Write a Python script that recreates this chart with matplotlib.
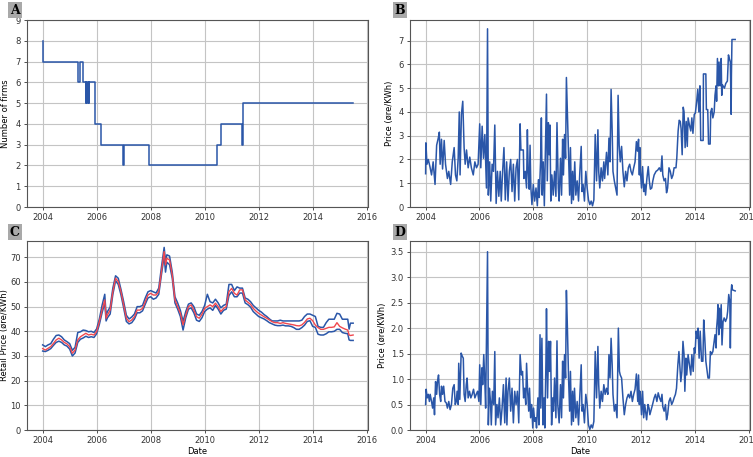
import matplotlib
matplotlib.use('Agg')
import matplotlib.pyplot as plt

# Panel A: number of firms (step changes)
a_years = [2004.0, 2004.02, 2005.32, 2005.38, 2005.51, 2005.60, 2005.62, 2005.66, 2005.68,
           2005.71, 2005.73, 2005.94, 2006.17, 2006.99, 2007.01, 2007.94, 2010.47, 2010.59,
           2011.38, 2011.42, 2015.5]
a_firms = [8, 7, 6, 7, 6, 5, 6, 5, 6, 5, 6, 4, 3, 2, 3, 2, 3, 4, 3, 5, 5]

# Panel B: price (øre/KWh)
b_years = [2004.0, 2004.01, 2004.05, 2004.10, 2004.16, 2004.22, 2004.28, 2004.35, 2004.41, 2004.47,
           2004.51, 2004.54, 2004.59, 2004.63, 2004.69, 2004.74, 2004.81, 2004.86, 2004.93, 2004.99,
           2005.06, 2005.11, 2005.16, 2005.21, 2005.25, 2005.28, 2005.33, 2005.38, 2005.43, 2005.47,
           2005.52, 2005.58, 2005.64, 2005.70, 2005.77, 2005.83, 2005.89, 2005.95, 2006.01, 2006.05,
           2006.10, 2006.15, 2006.20, 2006.26, 2006.30, 2006.33, 2006.38, 2006.42, 2006.47, 2006.52,
           2006.57, 2006.62, 2006.67, 2006.72, 2006.77, 2006.81, 2006.86, 2006.91, 2006.96, 2007.01,
           2007.06, 2007.11, 2007.16, 2007.21, 2007.26, 2007.31, 2007.36, 2007.41, 2007.46, 2007.51,
           2007.54, 2007.63, 2007.65, 2007.70, 2007.75, 2007.78, 2007.81, 2007.85, 2007.88, 2007.91,
           2007.95, 2008.00, 2008.05, 2008.10, 2008.15, 2008.19, 2008.22, 2008.27, 2008.30, 2008.33,
           2008.37, 2008.41, 2008.44, 2008.49, 2008.52, 2008.56, 2008.59, 2008.62, 2008.65, 2008.69,
           2008.74, 2008.79, 2008.84, 2008.88, 2008.93, 2008.96, 2009.01, 2009.05, 2009.09, 2009.12,
           2009.16, 2009.20, 2009.23, 2009.27, 2009.31, 2009.35, 2009.38, 2009.42, 2009.46, 2009.49,
           2009.54, 2009.58, 2009.63, 2009.68, 2009.73, 2009.78, 2009.81, 2009.85, 2009.90, 2009.95,
           2010.00, 2010.05, 2010.10, 2010.15, 2010.20, 2010.25, 2010.30, 2010.35, 2010.40, 2010.43,
           2010.47, 2010.52, 2010.57, 2010.62, 2010.65, 2010.72, 2010.77, 2010.81, 2010.85, 2010.89,
           2010.93, 2010.96, 2011.01, 2011.06, 2011.11, 2011.15, 2011.19, 2011.23, 2011.28, 2011.33,
           2011.38, 2011.43, 2011.48, 2011.53, 2011.58, 2011.63, 2011.68, 2011.73, 2011.78, 2011.83,
           2011.87, 2011.91, 2011.94, 2011.96, 2011.98, 2012.02, 2012.06, 2012.10, 2012.14, 2012.17,
           2012.22, 2012.27, 2012.31, 2012.35, 2012.40, 2012.44, 2012.49, 2012.56, 2012.62, 2012.68,
           2012.74, 2012.78, 2012.81, 2012.86, 2012.91, 2012.95, 2012.99, 2013.04, 2013.09, 2013.14,
           2013.19, 2013.23, 2013.30, 2013.33, 2013.38, 2013.42, 2013.46, 2013.49, 2013.53, 2013.57,
           2013.60, 2013.64, 2013.68, 2013.72, 2013.75, 2013.80, 2013.85, 2013.89, 2013.93, 2013.98,
           2014.02, 2014.07, 2014.11, 2014.15, 2014.19, 2014.22, 2014.31, 2014.32, 2014.41, 2014.43,
           2014.48, 2014.51, 2014.57, 2014.59, 2014.63, 2014.67, 2014.72, 2014.75, 2014.79, 2014.81,
           2014.84, 2014.88, 2014.90, 2014.94, 2014.98, 2015.00, 2015.02, 2015.10, 2015.15, 2015.21,
           2015.25, 2015.28, 2015.32, 2015.35, 2015.36, 2015.38, 2015.50]
b_price = [1.4, 2.7, 1.8, 2.0, 1.7, 1.35, 1.9, 0.95, 2.6, 2.9,
           3.15, 1.8, 2.85, 1.6, 2.8, 1.8, 1.2, 1.5, 0.95, 1.9,
           2.5, 1.35, 1.1, 2.05, 4.0, 1.35, 3.9, 4.45, 2.5, 1.8,
           2.4, 1.65, 2.1, 1.65, 1.35, 1.9, 1.65, 1.8, 3.5, 1.65,
           3.4, 2.05, 3.05, 0.8, 7.5, 0.5, 1.9, 0.25, 1.8, 1.5,
           3.45, 0.15, 1.5, 0.45, 1.5, 0.25, 1.5, 2.5, 0.3, 1.9,
           0.25, 1.5, 2.0, 0.65, 1.8, 0.25, 1.65, 2.0, 0.3, 3.5,
           2.4, 2.4, 1.2, 1.5, 0.8, 3.25, 1.55, 0.75, 2.6, 0.8,
           0.1, 0.95, 0.25, 0.8, 0.05, 1.15, 0.4, 1.9, 3.75, 0.5,
           1.9, 0.05, 1.8, 4.75, 1.1, 3.55, 2.2, 3.45, 0.25, 1.35,
           0.5, 1.5, 0.45, 3.55, 0.8, 0.25, 2.05, 0.5, 2.85, 1.35,
           3.05, 2.05, 5.45, 3.9, 2.2, 0.5, 2.5, 0.15, 1.5, 0.3,
           1.9, 0.5, 1.1, 0.25, 1.5, 2.55, 0.65, 0.95, 0.25, 1.5,
           0.8, 0.3, 0.1, 0.25, 0.05, 0.3, 3.05, 1.1, 3.25, 1.5,
           0.8, 1.65, 1.1, 1.9, 1.2, 2.3, 1.35, 2.9, 1.9, 4.95,
           3.2, 1.5, 1.1, 0.8, 0.5, 4.7, 2.6, 1.9, 2.55, 1.5,
           0.85, 1.5, 1.1, 1.65, 1.8, 1.5, 1.35, 1.65, 1.9, 2.75,
           2.35, 2.85, 1.35, 2.5, 1.5, 0.8, 1.7, 0.65, 0.95, 0.5,
           1.2, 1.7, 1.1, 0.75, 0.8, 1.1, 1.35, 1.5, 1.55, 1.65,
           1.5, 2.15, 1.35, 1.1, 1.2, 0.6, 0.8, 1.65, 1.5, 1.2,
           1.35, 1.65, 1.65, 2.05, 3.2, 3.65, 3.6, 3.3, 2.2, 4.2,
           4.0, 2.5, 3.6, 2.55, 3.75, 3.45, 3.2, 3.75, 3.1, 3.9,
           3.95, 4.45, 4.95, 4.0, 5.1, 2.8, 2.8, 5.6, 5.6, 4.1,
           4.1, 2.65, 2.65, 4.0, 4.15, 3.75, 4.0, 4.7, 5.1, 4.45,
           6.25, 5.1, 6.1, 5.1, 6.25, 4.7, 5.15, 5.0, 5.2, 5.3,
           6.4, 6.25, 6.1, 3.9, 5.55, 7.05, 7.05]

# Panel C: retail price, mean (red) with upper/lower bounds (blue)
c_years = [2004.0, 2004.1, 2004.2, 2004.3, 2004.4, 2004.5, 2004.6, 2004.7, 2004.8, 2004.9,
           2005.0, 2005.1, 2005.2, 2005.3, 2005.4, 2005.5, 2005.6, 2005.7, 2005.8, 2005.9,
           2006.0, 2006.1, 2006.2, 2006.3, 2006.35, 2006.4, 2006.5, 2006.6, 2006.7, 2006.8,
           2006.9, 2007.0, 2007.1, 2007.2, 2007.3, 2007.4, 2007.5, 2007.6, 2007.7, 2007.8,
           2007.9, 2008.0, 2008.1, 2008.2, 2008.3, 2008.4, 2008.5, 2008.55, 2008.6, 2008.7,
           2008.8, 2008.9, 2009.0, 2009.1, 2009.2, 2009.3, 2009.4, 2009.5, 2009.6, 2009.7,
           2009.8, 2009.9, 2010.0, 2010.1, 2010.2, 2010.3, 2010.4, 2010.5, 2010.6, 2010.7,
           2010.8, 2010.9, 2011.0, 2011.1, 2011.2, 2011.3, 2011.4, 2011.5, 2011.6, 2011.7,
           2011.8, 2011.9, 2012.0, 2012.1, 2012.2, 2012.3, 2012.4, 2012.5, 2012.6, 2012.7,
           2012.8, 2012.9, 2013.0, 2013.1, 2013.2, 2013.3, 2013.4, 2013.5, 2013.6, 2013.7,
           2013.8, 2013.9, 2014.0, 2014.1, 2014.2, 2014.3, 2014.4, 2014.5, 2014.6, 2014.7,
           2014.8, 2014.9, 2015.0, 2015.1, 2015.2, 2015.3, 2015.35, 2015.4, 2015.5]
c_mean = [33.0, 32.4, 33.1, 33.8, 35.1, 36.5, 37.2, 36.5, 35.5, 34.9,
          33.8, 31.1, 32.4, 36.5, 37.8, 38.5, 39.2, 38.5, 38.8, 38.5,
          39.9, 43.9, 48.6, 52.7, 45.3, 46.6, 48.6, 56.1, 61.5, 60.1,
          56.1, 50.7, 45.3, 43.9, 44.6, 45.9, 48.6, 48.6, 49.3, 52.0,
          54.7, 55.4, 54.7, 54.7, 56.1, 64.2, 72.3, 66.9, 69.6, 68.9,
          62.8, 52.7, 50.0, 47.3, 42.6, 46.6, 50.0, 50.7, 48.6, 45.9,
          45.3, 46.9, 49.3, 50.0, 50.7, 50.0, 51.4, 50.0, 48.0, 49.3,
          50.0, 56.1, 57.4, 55.4, 54.7, 56.8, 56.8, 52.7, 51.8, 50.9,
          49.3, 48.2, 47.3, 46.6, 45.9, 45.3, 44.6, 43.9, 43.5, 43.5,
          43.2, 43.5, 43.2, 43.0, 42.8, 42.6, 42.3, 42.2, 42.6, 43.6,
          45.0, 45.3, 44.3, 42.5, 41.5, 40.8, 40.8, 41.2, 41.6, 41.6,
          41.8, 43.5, 42.0, 41.4, 40.9, 40.5, 38.5, 38.3, 38.5]
c_upper = [34.5, 33.8, 34.5, 35.0, 36.8, 38.3, 38.5, 37.8, 36.5, 35.8,
           35.0, 32.3, 33.5, 39.5, 39.8, 40.5, 40.3, 39.8, 40.0, 39.5,
           41.0, 45.0, 50.5, 55.0, 46.5, 48.0, 49.8, 57.5, 62.5, 61.5,
           57.0, 52.0, 46.5, 45.0, 45.8, 47.0, 50.0, 50.0, 50.5, 53.5,
           56.0, 56.5, 56.0, 55.5, 57.5, 66.0, 74.0, 68.5, 71.0, 70.5,
           64.0, 54.0, 51.5, 48.5, 44.0, 48.0, 51.0, 51.5, 50.0, 47.0,
           46.5, 48.0, 50.5, 55.0, 52.0, 51.5, 53.0, 51.5, 49.5, 50.5,
           51.0, 59.0, 59.0, 56.5, 58.0, 57.5, 57.5, 53.5, 53.0, 52.0,
           50.5, 49.5, 48.5, 47.8, 46.8, 46.0, 45.0, 44.2, 44.2, 44.2,
           44.5, 44.2, 44.2, 44.2, 44.2, 44.2, 44.2, 44.2, 44.5, 46.0,
           47.0, 47.0, 46.5, 46.0, 42.0, 41.6, 41.6, 43.5, 44.9, 44.9,
           44.9, 47.3, 47.0, 44.9, 44.9, 44.9, 40.9, 43.3, 43.3]
c_lower = [32.0, 31.8, 32.3, 33.0, 34.3, 35.5, 36.0, 35.5, 34.5, 34.0,
           32.8, 30.0, 31.2, 35.5, 36.8, 37.3, 38.0, 37.5, 37.8, 37.5,
           39.0, 42.8, 47.5, 51.5, 44.2, 45.5, 47.0, 55.0, 60.5, 59.0,
           54.8, 49.5, 44.0, 43.0, 43.5, 45.0, 47.5, 47.5, 48.3, 51.0,
           53.5, 54.0, 53.0, 53.5, 55.0, 63.0, 70.5, 64.0, 68.0, 67.0,
           61.5, 51.5, 49.0, 46.0, 40.5, 45.5, 49.0, 49.5, 47.5, 44.5,
           44.0, 45.5, 48.0, 49.0, 49.5, 48.5, 50.5, 49.0, 47.0, 48.5,
           49.0, 54.5, 56.0, 54.0, 54.0, 55.5, 55.5, 51.5, 50.8, 49.8,
           48.0, 47.0, 46.0, 45.5, 45.0, 44.3, 43.5, 43.0, 42.5, 42.3,
           42.3, 42.5, 42.2, 42.2, 42.0, 41.5, 40.8, 40.8, 41.5, 42.5,
           44.0, 44.3, 42.0, 41.6, 38.8, 38.5, 38.5, 39.0, 39.8, 39.8,
           40.0, 40.8, 40.8, 39.5, 39.2, 39.0, 36.5, 36.3, 36.3]

# Panel D: price (øre/KWh)
d_years = [2004.0, 2004.02, 2004.06, 2004.10, 2004.14, 2004.17, 2004.22, 2004.26, 2004.30, 2004.33,
           2004.37, 2004.41, 2004.44, 2004.48, 2004.52, 2004.56, 2004.59, 2004.63, 2004.67, 2004.72,
           2004.77, 2004.81, 2004.86, 2004.91, 2004.96, 2005.01, 2005.06, 2005.10, 2005.14, 2005.17,
           2005.21, 2005.23, 2005.27, 2005.32, 2005.36, 2005.40, 2005.43, 2005.47, 2005.51, 2005.54,
           2005.58, 2005.63, 2005.68, 2005.73, 2005.78, 2005.83, 2005.88, 2005.93, 2005.98, 2006.01,
           2006.05, 2006.09, 2006.12, 2006.16, 2006.20, 2006.23, 2006.30, 2006.33, 2006.37, 2006.41,
           2006.44, 2006.48, 2006.53, 2006.57, 2006.60, 2006.65, 2006.69, 2006.74, 2006.79, 2006.84,
           2006.89, 2006.94, 2006.99, 2007.02, 2007.06, 2007.11, 2007.16, 2007.21, 2007.26, 2007.31,
           2007.36, 2007.41, 2007.46, 2007.51, 2007.56, 2007.60, 2007.64, 2007.68, 2007.72, 2007.75,
           2007.79, 2007.83, 2007.86, 2007.90, 2007.94, 2007.98, 2008.01, 2008.05, 2008.09, 2008.12,
           2008.17, 2008.21, 2008.25, 2008.28, 2008.32, 2008.36, 2008.40, 2008.43, 2008.47, 2008.49,
           2008.53, 2008.57, 2008.60, 2008.64, 2008.68, 2008.72, 2008.75, 2008.79, 2008.84, 2008.88,
           2008.91, 2008.96, 2009.01, 2009.05, 2009.09, 2009.12, 2009.16, 2009.20, 2009.23, 2009.27,
           2009.31, 2009.35, 2009.38, 2009.42, 2009.46, 2009.49, 2009.53, 2009.58, 2009.63, 2009.68,
           2009.73, 2009.78, 2009.81, 2009.85, 2009.90, 2009.95, 2010.00, 2010.05, 2010.10, 2010.15,
           2010.20, 2010.25, 2010.30, 2010.35, 2010.40, 2010.43, 2010.47, 2010.52, 2010.57, 2010.62,
           2010.67, 2010.72, 2010.77, 2010.81, 2010.85, 2010.89, 2010.93, 2010.96, 2011.01, 2011.06,
           2011.11, 2011.16, 2011.20, 2011.23, 2011.28, 2011.33, 2011.38, 2011.43, 2011.48, 2011.53,
           2011.58, 2011.63, 2011.68, 2011.73, 2011.78, 2011.83, 2011.88, 2011.91, 2011.94, 2011.96,
           2011.98, 2012.02, 2012.06, 2012.10, 2012.14, 2012.17, 2012.21, 2012.26, 2012.30, 2012.33,
           2012.38, 2012.43, 2012.49, 2012.54, 2012.59, 2012.64, 2012.69, 2012.74, 2012.78, 2012.81,
           2012.86, 2012.91, 2012.95, 2012.99, 2013.04, 2013.09, 2013.14, 2013.19, 2013.23, 2013.28,
           2013.32, 2013.37, 2013.41, 2013.44, 2013.48, 2013.52, 2013.56, 2013.60, 2013.63, 2013.67,
           2013.70, 2013.75, 2013.80, 2013.85, 2013.89, 2013.94, 2013.98, 2014.01, 2014.05, 2014.09,
           2014.12, 2014.16, 2014.20, 2014.25, 2014.30, 2014.33, 2014.37, 2014.41, 2014.44, 2014.49,
           2014.54, 2014.58, 2014.62, 2014.67, 2014.72, 2014.75, 2014.79, 2014.81, 2014.84, 2014.86,
           2014.89, 2014.91, 2014.94, 2014.98, 2015.01, 2015.05, 2015.09, 2015.14, 2015.19, 2015.22,
           2015.26, 2015.30, 2015.32, 2015.35, 2015.37, 2015.40, 2015.50]
d_price = [0.5, 0.8, 0.63, 0.7, 0.56, 0.7, 0.56, 0.43, 0.63, 0.3,
           0.95, 0.7, 0.95, 1.08, 0.7, 0.56, 0.86, 0.7, 0.86, 0.56,
           0.53, 0.43, 0.56, 0.4, 0.5, 0.82, 0.89, 0.5, 0.56, 0.76,
           0.5, 1.31, 0.6, 1.51, 1.45, 1.41, 0.7, 0.56, 0.89, 1.02,
           0.63, 0.76, 0.63, 0.7, 0.8, 0.63, 0.7, 0.76, 0.56, 1.28,
           0.5, 1.22, 0.89, 1.48, 0.95, 0.43, 3.5, 0.1, 0.82, 0.56,
           0.1, 0.76, 0.5, 1.54, 0.1, 0.5, 0.24, 0.63, 0.1, 0.43,
           0.89, 0.14, 1.02, 0.1, 0.76, 1.02, 0.37, 0.82, 0.14, 0.76,
           0.5, 0.76, 0.14, 1.48, 1.08, 1.15, 0.63, 0.82, 0.5, 1.31,
           0.76, 0.37, 0.82, 0.24, 0.5, 0.04, 0.43, 0.17, 0.24, 0.04,
           0.63, 0.1, 1.87, 0.43, 1.8, 0.1, 0.63, 0.04, 1.35, 2.38,
           0.63, 1.74, 1.15, 1.74, 0.1, 0.63, 0.37, 1.02, 0.24, 1.75,
           0.5, 0.14, 0.89, 0.24, 1.35, 0.63, 1.48, 1.02, 2.74, 1.94,
           1.02, 0.37, 1.15, 0.1, 0.76, 0.17, 0.82, 0.24, 0.56, 0.1,
           0.7, 1.28, 0.37, 0.5, 0.14, 0.7, 0.5, 0.1, 0.01, 0.1,
           0.04, 0.17, 1.54, 0.63, 1.64, 0.89, 0.43, 0.76, 0.56, 0.89,
           0.7, 0.82, 0.7, 1.48, 1.02, 1.8, 1.28, 0.7, 0.37, 0.5,
           0.24, 2.0, 1.15, 1.08, 1.02, 0.63, 0.3, 0.5, 0.63, 0.7,
           0.63, 0.76, 0.56, 0.7, 0.8, 1.1, 0.56, 1.08, 0.5, 0.76,
           0.7, 0.3, 0.76, 0.24, 0.5, 0.37, 0.2, 0.5, 0.43, 0.3,
           0.4, 0.5, 0.63, 0.7, 0.56, 0.73, 0.63, 0.56, 0.7, 0.46,
           0.37, 0.5, 0.2, 0.3, 0.56, 0.63, 0.5, 0.56, 0.63, 0.7,
           0.82, 1.28, 1.54, 1.28, 0.95, 1.15, 1.74, 1.48, 0.76, 1.41,
           1.08, 1.48, 1.28, 1.08, 1.48, 1.15, 1.61, 1.51, 1.94, 1.8,
           2.0, 1.41, 1.94, 1.35, 1.35, 2.16, 1.8, 1.35, 1.22, 1.02,
           1.02, 1.54, 1.48, 1.54, 1.74, 1.87, 1.61, 2.0, 2.2, 2.46,
           1.87, 2.39, 2.0, 2.46, 1.67, 2.13, 2.2, 2.13, 2.2, 2.33,
           2.66, 2.52, 1.61, 2.72, 2.85, 2.75, 2.73]

year_ticks = [2004, 2006, 2008, 2010, 2012, 2014, 2016]

blue = '#2a56a8'
red = '#f0484f'

plt.rcParams['font.size'] = 6
plt.rcParams['axes.edgecolor'] = '#555555'
plt.rcParams['xtick.color'] = '#333333'
plt.rcParams['ytick.color'] = '#333333'

fig = plt.figure(figsize=(7.53, 4.57), dpi=100)
W, H = 753.0, 457.0


def make_ax(left, top, right, bottom):
    return fig.add_axes([left / W, 1 - bottom / H, (right - left) / W, (bottom - top) / H])


ax_a = make_ax(27, 20, 368, 207)
ax_b = make_ax(410, 20, 750, 207)
ax_c = make_ax(27, 241, 368, 430)
ax_d = make_ax(410, 241, 750, 430)

ax_a.plot(a_years, a_firms, color=blue, lw=1.1, drawstyle='steps-post')
ax_a.set_ylim(0, 9)
ax_a.set_yticks(range(0, 10))
ax_a.set_ylabel('Number of firms')
ax_a.yaxis.set_label_coords(-0.05, 0.5)

ax_b.plot(b_years, b_price, color=blue, lw=1.1)
ax_b.set_ylim(0, 7.87)
ax_b.set_yticks(range(0, 8))
ax_b.set_ylabel('Price (øre/KWh)')
ax_b.yaxis.set_label_coords(-0.047, 0.5)

ax_c.plot(c_years, c_upper, color=blue, lw=1.1)
ax_c.plot(c_years, c_lower, color=blue, lw=1.1)
ax_c.plot(c_years, c_mean, color=red, lw=1.0)
ax_c.set_ylim(0, 76.6)
ax_c.set_yticks(range(0, 80, 10))
ax_c.set_ylabel('Retail Price (øre/KWh)')
ax_c.yaxis.set_label_coords(-0.054, 0.5)
ax_c.set_xlabel('Date', labelpad=1)

ax_d.plot(d_years, d_price, color=blue, lw=1.1)
ax_d.set_ylim(0, 3.71)
ax_d.set_yticks([0, 0.5, 1.0, 1.5, 2.0, 2.5, 3.0, 3.5])
ax_d.set_ylabel('Price (øre/KWh)')
ax_d.yaxis.set_label_coords(-0.068, 0.5)
ax_d.set_xlabel('Date', labelpad=1)

for ax in [ax_a, ax_b, ax_c, ax_d]:
    ax.set_xlim(2003.42, 2016.05)
    ax.set_xticks(year_ticks)
    ax.set_xticklabels([str(y) for y in year_ticks])
    ax.grid(True, color='#c4c4c4', lw=0.8)
    ax.set_axisbelow(True)
    ax.tick_params(length=2.5, width=0.6, pad=2)

# panel letters
for letter, x, y in [('A', 15, 10), ('B', 400, 10), ('C', 15, 232), ('D', 400, 232)]:
    fig.text(x / W, 1 - y / H, letter, family='DejaVu Serif', weight='bold', fontsize=9,
             ha='center', va='center',
             bbox=dict(boxstyle='square,pad=0.15', facecolor='#a9a9a9', edgecolor='none'))

fig.savefig('out.png', dpi=100)
